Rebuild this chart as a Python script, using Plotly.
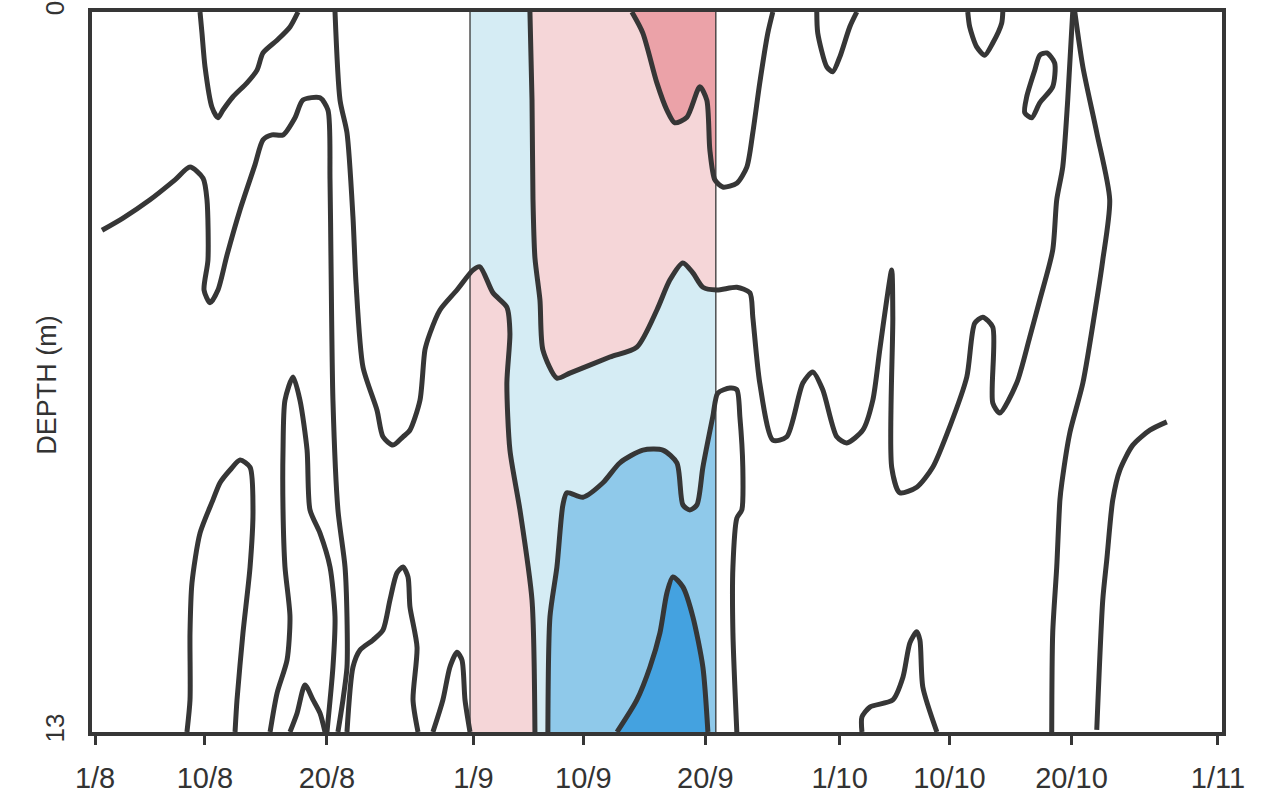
import plotly.graph_objects as go

# ---- axes --------------------------------------------------------------
# time in days counted from 1 August; depth in metres
tick_days = [0, 9, 19, 31, 40, 50, 61, 70, 80, 92]
tick_text = ["1/8", "10/8", "20/8", "1/9", "10/9", "20/9", "1/10", "10/10", "20/10", "1/11"]
depth_ticks = [0, 13]
depth_text = ["0", "13"]

# period with shaded classes (days)
shade_start = 30.72
shade_end = 50.86

# ---- isolines (day, depth) --------------------------------------------
iso_a_day = [0.57, 2.29, 4.50, 6.55, 7.78, 8.85, 9.17, 9.25, 8.93, 9.42, 10.07, 10.81, 11.88, 13.10,
             13.76, 14.50, 15.40, 16.38, 17.03, 18.43, 19.08, 19.25, 19.33, 19.49, 19.90, 20.48,
             20.64, 20.64, 20.31, 19.90]
iso_a_depth = [3.94, 3.72, 3.39, 3.03, 2.80, 3.00, 3.39, 4.48, 5.02, 5.25, 5.02, 4.39, 3.57, 2.76,
               2.31, 2.22, 2.22, 1.91, 1.59, 1.55, 1.77, 3.03, 4.48, 7.01, 8.99, 10.02,
               10.92, 11.83, 12.42, 13.0]

iso_b_day = [19.66, 20.07, 20.64, 21.13, 21.38, 21.95, 23.10, 23.59, 24.41, 25.23, 25.80, 26.62,
             27.03, 27.44, 28.26, 29.65, 30.96, 31.53, 32.60, 33.74, 33.99, 33.74, 33.99, 34.81,
             35.80, 36.04]
iso_b_depth = [0.0, 1.59, 2.18, 3.70, 4.89, 6.41, 7.19, 7.67, 7.82, 7.67, 7.55, 7.01,
               6.10, 5.80, 5.38, 5.02, 4.66, 4.60, 5.07, 5.33, 5.80, 6.70, 7.91, 8.99,
               10.62, 13.0]

iso_c_day = [35.63, 35.80, 35.88, 36.04, 36.45, 36.69, 37.84, 38.90, 42.18, 44.39, 46.03, 47.09,
             48.16, 48.98, 49.80, 50.94, 52.58, 53.65, 53.89, 54.46, 55.53, 56.67, 57.99, 58.80,
             59.62, 60.77, 61.59, 62.90, 63.72, 64.29, 64.86, 65.27, 65.36, 65.27, 65.93, 67.32,
             68.63, 70.02, 71.42, 72.07, 72.73, 73.55, 73.55, 74.12, 75.51, 76.58, 77.40, 78.46,
             78.79, 79.28, 79.69, 80.10]
iso_c_depth = [0.0, 1.59, 3.39, 4.44, 5.20, 6.10, 6.61, 6.52, 6.23, 6.05, 5.38, 4.84,
               4.53, 4.71, 4.97, 5.02, 4.97, 5.07, 5.51, 6.70, 7.73, 7.67, 6.70, 6.50,
               6.82, 7.67, 7.78, 7.55, 7.01, 6.10, 5.20, 4.66, 5.51, 8.22, 8.68, 8.58,
               8.22, 7.49, 6.59, 5.62, 5.51, 5.69, 7.06, 7.24, 6.70, 5.87, 5.20, 4.30,
               3.39, 2.80, 1.59, 0.0]

iso_d_day = [43.98, 44.88, 46.03, 46.85, 47.50, 48.49, 49.55, 50.12, 50.37, 50.78, 51.43, 52.58,
             53.40, 53.89, 54.46, 55.12, 55.53]
iso_d_depth = [0.0, 0.38, 1.28, 1.77, 2.00, 1.90, 1.35, 1.59, 2.49, 3.03, 3.16, 3.09,
               2.80, 2.18, 1.28, 0.38, 0.0]

iso_e_day = [59.13, 59.21, 59.95, 60.44, 61.02, 61.83, 62.41]
iso_e_depth = [0.0, 0.38, 0.99, 1.08, 0.81, 0.27, 0.0]

iso_f_day = [71.50, 71.66, 72.23, 72.89, 73.55, 74.28, 74.37]
iso_f_depth = [0.0, 0.27, 0.63, 0.78, 0.56, 0.20, 0.0]

iso_g_day = [77.97, 78.62, 78.46, 77.40, 76.74, 76.17, 76.33, 76.99, 77.40, 77.97]
iso_g_depth = [0.74, 0.92, 1.35, 1.64, 1.91, 1.82, 1.53, 1.05, 0.78, 0.74]

iso_h_day = [8.60, 8.76, 9.01, 9.58, 10.07, 10.48, 11.30, 12.45, 13.27, 13.76, 14.91, 15.97, 16.63]
iso_h_depth = [0.0, 0.38, 0.99, 1.72, 1.91, 1.77, 1.53, 1.28, 1.05, 0.74, 0.51, 0.27, 0.0]

iso_i_day = [7.53, 7.78, 7.78, 7.94, 8.60, 9.66, 10.24, 11.06, 11.88, 12.70, 12.94, 12.70, 12.12,
             11.63, 11.47]
iso_i_depth = [13.0, 12.42, 11.21, 10.31, 9.41, 8.81, 8.50, 8.27, 8.09, 8.22, 8.99, 10.02, 11.21,
               12.42, 13.0]

iso_j_day = [14.34, 14.91, 15.73, 15.97, 15.56, 15.40, 15.40, 15.56, 16.22, 16.79, 17.37, 17.61,
             18.43, 19.25, 19.66, 19.49, 19.00]
iso_j_depth = [13.0, 12.30, 11.70, 10.92, 10.02, 8.99, 7.91, 7.01, 6.59, 7.01, 7.91, 8.99,
               9.41, 10.02, 10.92, 11.83, 13.0]

iso_k_day = [15.97, 16.55, 17.20, 17.86, 18.43, 18.84]
iso_k_depth = [13.0, 12.66, 12.15, 12.42, 12.66, 13.0]

iso_l_day = [20.64, 21.13, 21.71, 22.77, 23.59, 24.16, 24.73, 25.23, 25.64, 25.80, 26.38, 26.05, 26.46]
iso_l_depth = [13.0, 11.83, 11.52, 11.34, 11.16, 10.62, 10.13, 10.02, 10.20, 10.74, 11.47, 12.42, 13.0]

iso_m_day = [27.68, 28.50, 29.07, 29.65, 30.06, 30.31, 30.72]
iso_m_depth = [13.0, 12.42, 11.83, 11.56, 11.70, 12.42, 13.0]

iso_n_day = [37.10, 37.27, 37.84, 38.33, 38.66, 39.97, 41.61, 43.00, 44.88, 46.52, 47.67, 48.16,
             48.73, 49.31, 49.80, 50.61, 51.02, 52.01, 52.58, 52.83, 53.07, 52.99, 52.58, 52.26,
             52.26, 52.58]
iso_n_depth = [13.0, 10.92, 10.02, 8.90, 8.68, 8.76, 8.50, 8.14, 7.91, 7.91, 8.14, 8.90,
               8.99, 8.90, 8.22, 7.31, 6.88, 6.79, 6.82, 7.31, 8.22, 8.99, 9.14, 10.02,
               11.21, 13.0]

iso_o_day = [42.76, 44.39, 45.46, 46.28, 46.85, 47.34, 48.16, 48.98, 49.80, 50.21]
iso_o_depth = [13.0, 12.42, 11.83, 11.21, 10.49, 10.20, 10.38, 10.92, 11.83, 13.0]

iso_p_day = [62.83, 62.83, 63.48, 65.36, 66.19, 66.76, 67.32, 67.58, 67.82, 68.97]
iso_p_depth = [13.0, 12.73, 12.55, 12.42, 12.01, 11.39, 11.19, 11.34, 12.19, 13.0]

iso_q_day = [80.27, 80.93, 82.07, 83.13, 82.56, 82.07, 80.93, 79.86, 79.21, 79.05, 78.79, 78.46, 78.38]
iso_q_depth = [0.0, 0.99, 2.18, 3.39, 4.48, 5.20, 6.70, 7.60, 8.50, 8.81, 10.02, 11.21, 13.0]

iso_r_day = [87.81, 86.42, 85.02, 83.96, 83.38, 82.89, 82.56, 82.07]
iso_r_depth = [7.40, 7.55, 7.82, 8.27, 8.81, 9.89, 10.62, 12.96]

# ---- styling -----------------------------------------------------------
INK = "#363636"
LIGHT_BLUE = "#d5ecf4"
PINK = "#f5d6d8"
RED = "#eba2a8"
MID_BLUE = "#8fc9ea"
DEEP_BLUE = "#44a2e0"
FONT = "Liberation Sans, Arial, sans-serif"


def inside_run(xs, ys, lo, hi):
    """Part of a polyline lying between lo <= x <= hi, with boundary crossings added."""
    pts = []
    started = False
    for i, (x, y) in enumerate(zip(xs, ys)):
        inside = lo <= x <= hi
        if i > 0:
            xp, yp = xs[i - 1], ys[i - 1]
            prev_inside = lo <= xp <= hi
            if inside != prev_inside:
                b = lo if min(x, xp) < lo else hi
                t = (b - xp) / (x - xp)
                yb = yp + t * (y - yp)
                if prev_inside and started:
                    pts.append((b, yb))
                    return pts
                if not prev_inside:
                    pts.append((b, yb))
                    started = True
        if inside and (started or i == 0):
            started = True
            pts.append((x, y))
    return pts


def area(pts, extra):
    pts = list(pts) + list(extra)
    pts.append(pts[0])
    return [p[0] for p in pts], [p[1] for p in pts]


fig = go.Figure()

# shaded classes inside the highlighted period
fills = [
    (area([(shade_start, 0), (shade_end, 0), (shade_end, 13), (shade_start, 13)], []), LIGHT_BLUE),
    (area(inside_run(iso_b_day, iso_b_depth, shade_start, shade_end), [(shade_start, 13)]), PINK),
    (area(inside_run(iso_c_day, iso_c_depth, shade_start, shade_end), [(shade_end, 0)]), PINK),
    (area(inside_run(iso_d_day, iso_d_depth, shade_start, shade_end), [(shade_end, 0)]), RED),
    (area(inside_run(iso_n_day, iso_n_depth, shade_start, shade_end), [(shade_end, 13)]), MID_BLUE),
    (area(list(zip(iso_o_day, iso_o_depth)), []), DEEP_BLUE),
]
for (fx, fy), col in fills:
    fig.add_trace(go.Scatter(x=fx, y=fy, mode="lines", fill="toself", fillcolor=col,
                             line=dict(width=0, color=col), hoverinfo="skip", showlegend=False))

# thin borders of the shaded period
for d in (shade_start, shade_end):
    fig.add_trace(go.Scatter(x=[d, d], y=[0, 13], mode="lines",
                             line=dict(color=INK, width=1.3), hoverinfo="skip", showlegend=False))

isolines = [
    (iso_a_day, iso_a_depth), (iso_b_day, iso_b_depth), (iso_c_day, iso_c_depth),
    (iso_d_day, iso_d_depth), (iso_e_day, iso_e_depth), (iso_f_day, iso_f_depth),
    (iso_g_day, iso_g_depth), (iso_h_day, iso_h_depth), (iso_i_day, iso_i_depth),
    (iso_j_day, iso_j_depth), (iso_k_day, iso_k_depth), (iso_l_day, iso_l_depth),
    (iso_m_day, iso_m_depth), (iso_n_day, iso_n_depth), (iso_o_day, iso_o_depth),
    (iso_p_day, iso_p_depth), (iso_q_day, iso_q_depth), (iso_r_day, iso_r_depth),
]
for xs, ys in isolines:
    fig.add_trace(go.Scatter(x=xs, y=ys, mode="lines",
                             line=dict(color=INK, width=5, shape="spline", smoothing=0.7),
                             hoverinfo="skip", showlegend=False))

fig.add_annotation(text="DEPTH (m)", xref="paper", yref="paper", x=-0.04, y=0.482,
                   xanchor="center", yanchor="middle",
                   textangle=-90, showarrow=False, font=dict(family=FONT, size=27, color="#333"))

fig.update_layout(
    width=1279, height=799,
    margin=dict(l=92, r=57, t=12, b=67),
    paper_bgcolor="white", plot_bgcolor="white",
    xaxis=dict(range=[-0.25, 92.33], tickvals=tick_days, ticktext=tick_text,
               ticks="outside", ticklen=9, tickwidth=3, tickcolor=INK,
               showgrid=False, zeroline=False, showline=True, mirror=True,
               linecolor=INK, linewidth=3.5, ticklabelstandoff=8, automargin=False,
               tickfont=dict(family=FONT, size=29, color="#333")),
    yaxis=dict(range=[13, 0], tickvals=depth_ticks, ticktext=depth_text, tickangle=-90,
               ticks="", showgrid=False, zeroline=False, showline=True, mirror=True,
               linecolor=INK, linewidth=3.5, ticklabelstandoff=14, automargin=False,
               tickfont=dict(family=FONT, size=26, color="#333")),
)

fig.write_html("out.html")
